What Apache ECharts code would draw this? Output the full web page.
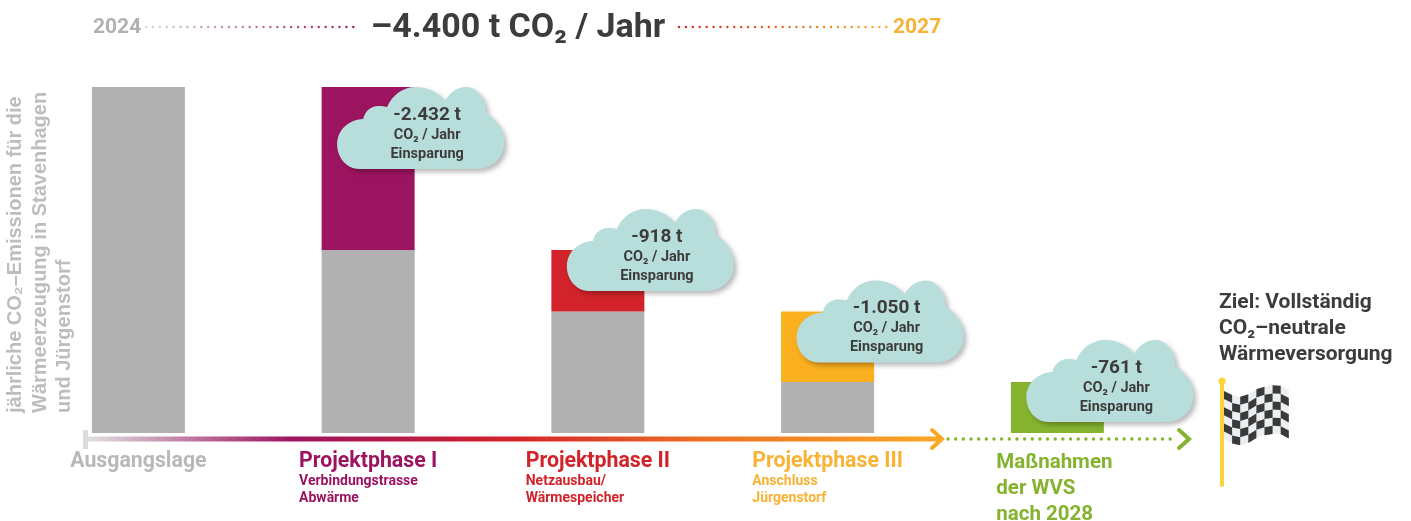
<!DOCTYPE html>
<html>
<head>
<meta charset="utf-8">
<title>CO2-Einsparung</title>
<style>
  html, body { margin: 0; padding: 0; background: #fff; }
  #chart { width: 1411px; height: 521px; }
</style>
<script src="https://cdn.jsdelivr.net/npm/echarts@6/dist/echarts.min.js"></script>
</head>
<body>
<div id="chart"></div>
<script>
var categories = ['Ausgangslage', 'Projektphase I', 'Projektphase II', 'Projektphase III', 'Maßnahmen der WVS nach 2028'];
var restEmission = [5161, 2729, 1811, 761, 0];
var savings = [0, 2432, 918, 1050, 761];
var cloudLabels = ['', '-2.432 t', '-918 t', '-1.050 t', '-761 t'];
var phaseDetails = [[], ['Verbindungstrasse', 'Abwärme'], ['Netzausbau/', 'Wärmespeicher'], ['Anschluss', 'Jürgenstorf'], []];

var GRAY = '#b1b1b1', PURPLE = '#9c1460', RED = '#d2232a', ORANGE = '#fbb01f', GREEN = '#86b32f', DARK = '#3c3c3b';
var FONT = 'Roboto';
var barColors = [GRAY, PURPLE, RED, ORANGE, GREEN];
var labelColors = ['#b8b8b8', PURPLE, RED, '#f9b233', GREEN];

// wolke in lokalen koordinaten, 167 x 82
var cloudPath = 'M22 82 C9 82 0 70 0 57.5 C0 44 10 33 26 32 C28 24 34 19 41 19 C45 19 48 19.5 50 20 ' +
  'C55 8 66 0 78 0 C91 0 102 6 108 14 C112 6 120 0 129 0 C140 0 149 12 149 26 ' +
  'C159 32 167 43 167 56 C167 71 155 82 139 82 Z';
// abstand oberkante wolke zu oberkante balken
var cloudLift = [0, 0, -41, -31, -42];

var chart = echarts.init(document.getElementById('chart'));

function hGradient(x1, x2, stops) {
  return { type: 'linear', x: x1, y: 0, x2: x2, y2: 0, global: true, colorStops: stops };
}

function renderCloud(params, api) {
  var i = api.value(0);
  var pos = api.coord([i, restEmission[i] + savings[i]]);
  var left = pos[0] - 31;
  var top = pos[1] + cloudLift[i];
  var lines = [
    { text: cloudLabels[i], y: 28, size: 19 },
    { text: 'CO₂ / Jahr', y: 48, size: 14.5 },
    { text: 'Einsparung', y: 67, size: 14.5 }
  ];
  var children = [{
    type: 'path',
    shape: { pathData: cloudPath, x: 0, y: 0, width: 167, height: 82, layout: 'cover' },
    style: { fill: '#b7dedb', shadowColor: 'rgba(0,0,0,0.28)', shadowBlur: 5, shadowOffsetX: 3, shadowOffsetY: 3 }
  }];
  lines.forEach(function (l) {
    children.push({
      type: 'text',
      style: {
        x: 90, y: l.y, text: l.text, fill: DARK, align: 'center', verticalAlign: 'middle',
        fontFamily: FONT, fontWeight: 700, fontSize: l.size
      }
    });
  });
  return { type: 'group', x: left, y: top, children: children };
}

// zielflagge
function flagElements() {
  var edge = [391, 395, 396.7, 394.3, 389.3, 386.7, 385.3, 385.7, 390];
  var cols = 8, rows = 6, colW = 8.1, rowH = 8.1, x0 = 1224;
  var out = [];
  var outline = [];
  for (var c = 0; c <= cols; c++) outline.push([x0 + c * colW, edge[c]]);
  for (c = cols; c >= 0; c--) outline.push([x0 + c * colW, edge[c] + rows * rowH]);
  out.push({ type: 'polygon', shape: { points: outline }, style: { fill: '#ebeff2' } });
  for (c = 0; c < cols; c++) {
    for (var r = 0; r < rows; r++) {
      if ((c + r) % 2 !== 0) continue;
      out.push({
        type: 'polygon',
        shape: { points: [
          [x0 + c * colW, edge[c] + r * rowH],
          [x0 + (c + 1) * colW, edge[c + 1] + r * rowH],
          [x0 + (c + 1) * colW, edge[c + 1] + (r + 1) * rowH],
          [x0 + c * colW, edge[c] + (r + 1) * rowH]
        ] },
        style: { fill: '#3a3a3a' }
      });
    }
  }
  out.push({ type: 'rect', shape: { x: 1220, y: 381, width: 4, height: 106, r: 2 }, style: { fill: '#fdd33a' } });
  out.push({ type: 'circle', shape: { cx: 1222, cy: 381, r: 3.6 }, style: { fill: '#fdd33a' } });
  return out;
}

var richLabels = {};
barColors.forEach(function (c, i) {
  richLabels['h' + i] = { color: labelColors[i], fontFamily: FONT, fontWeight: 700, fontSize: i === 4 ? 20.5 : 21.3, lineHeight: i === 4 ? 26 : 23, align: 'left', padding: i === 4 ? [0, 6, 0, 0] : 0 };
  richLabels['s' + i] = { color: labelColors[i], fontFamily: FONT, fontWeight: 700, fontSize: 14, lineHeight: 17, align: 'left' };
});

var option = {
  animation: false,
  grid: { left: 23.5, right: 238.75, top: 87, bottom: 88, outerBoundsMode: 'none' },
  xAxis: {
    type: 'category',
    data: categories,
    axisLine: { show: false },
    axisTick: { show: false },
    axisLabel: {
      margin: 17,
      interval: 0,
      verticalAlign: 'top',
      formatter: function (value, i) {
        if (i === 4) return '{h4|Maßnahmen}\n{h4|der WVS}\n{h4|nach 2028}';
        var out = '{h' + i + '|' + value + '}';
        phaseDetails[i].forEach(function (d) { out += '\n{s' + i + '|' + d + '}'; });
        return out;
      },
      rich: richLabels
    }
  },
  yAxis: { type: 'value', min: 0, max: 5161, show: false },
  series: [
    {
      type: 'bar', stack: 'co2', barWidth: 93, silent: true,
      itemStyle: { color: GRAY },
      data: restEmission
    },
    {
      type: 'bar', stack: 'co2', barWidth: 93, silent: true,
      data: savings.map(function (v, i) { return { value: v, itemStyle: { color: barColors[i] } }; })
    },
    {
      type: 'custom', silent: true, z: 5,
      renderItem: renderCloud,
      data: [[1], [2], [3], [4]]
    }
  ],
  graphic: [
    { type: 'text', style: { x: 93, y: 28, text: '2024', fill: GRAY, fontFamily: FONT, fontWeight: 700, fontSize: 21, verticalAlign: 'middle' } },
    { type: 'line', shape: { x1: 146, y1: 27, x2: 358, y2: 27 }, style: { stroke: hGradient(146, 358, [{ offset: 0, color: '#d8d8d8' }, { offset: 1, color: PURPLE }]), lineWidth: 2.4, lineDash: [0.01, 6.9], lineCap: 'round' } },
    { type: 'text', style: { x: 518, y: 28, text: '–4.400 t CO₂ / Jahr', fill: DARK, fontFamily: FONT, fontWeight: 700, fontSize: 34, align: 'center', verticalAlign: 'middle' } },
    { type: 'line', shape: { x1: 679, y1: 27, x2: 892, y2: 27 }, style: { stroke: hGradient(679, 892, [{ offset: 0, color: RED }, { offset: 1, color: ORANGE }]), lineWidth: 2.4, lineDash: [0.01, 6.9], lineCap: 'round' } },
    { type: 'text', style: { x: 893, y: 28, text: '2027', fill: '#f9b233', fontFamily: FONT, fontWeight: 700, fontSize: 21, verticalAlign: 'middle' } },

    { type: 'text', x: 3.5, y: 413, rotation: Math.PI / 2, style: {
      text: 'jährliche CO₂–Emissionen für die\nWärmeerzeugung in Stavenhagen\nund Jürgenstorf',
      fill: '#bdbdbd', fontFamily: 'Liberation Sans', fontWeight: 700, fontSize: 20, lineHeight: 24.5, align: 'left', verticalAlign: 'top'
    } },

    // zeitstrahl
    { type: 'line', shape: { x1: 85, y1: 439, x2: 941, y2: 439 }, style: { stroke: hGradient(85, 941, [
      { offset: 0, color: '#e2e2e2' }, { offset: 0.24, color: PURPLE }, { offset: 0.5, color: RED },
      { offset: 0.72, color: '#ec6f23' }, { offset: 1, color: '#f9a825' }
    ]), lineWidth: 5 } },
    { type: 'rect', shape: { x: 83, y: 430, width: 5, height: 19 }, style: { fill: '#dcdcdc' } },
    { type: 'polyline', shape: { points: [[932, 430], [942, 439], [932, 448]] }, style: { stroke: '#f9a825', fill: null, lineWidth: 4, lineCap: 'round', lineJoin: 'miter' } },
    { type: 'line', shape: { x1: 948, y1: 439, x2: 1176, y2: 439 }, style: { stroke: GREEN, lineWidth: 3.4, lineDash: [0.01, 7.65], lineCap: 'round' } },
    { type: 'polyline', shape: { points: [[1179, 430], [1189, 439], [1179, 448]] }, style: { stroke: GREEN, fill: null, lineWidth: 4, lineCap: 'round', lineJoin: 'miter' } },

    { type: 'text', style: {
      x: 1219, y: 290, text: 'Ziel: Vollständig\nCO₂–neutrale\nWärmeversorgung',
      fill: DARK, fontFamily: FONT, fontWeight: 700, fontSize: 21, lineHeight: 26, align: 'left', verticalAlign: 'top'
    } },
    { type: 'group', children: flagElements() }
  ]
};

chart.setOption(option);
</script>
</body>
</html>
